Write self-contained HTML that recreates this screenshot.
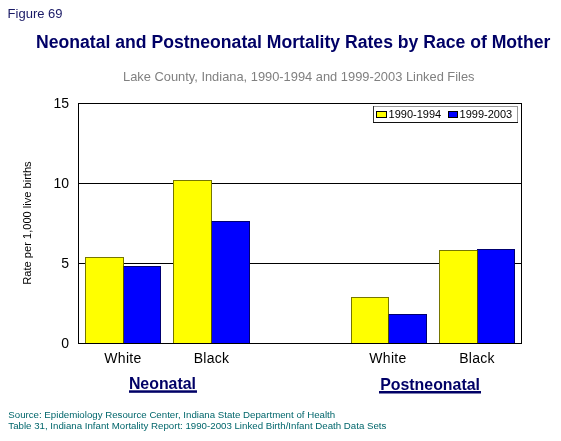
<!DOCTYPE html>
<html><head><meta charset="utf-8">
<style>
html,body{margin:0;padding:0;background:#fff;}
body{width:561px;height:441px;overflow:hidden;position:relative;}
svg{position:absolute;left:0;top:0;will-change:transform;}
text{font-family:"Liberation Sans",sans-serif;}
</style></head>
<body>
<svg width="561" height="441" viewBox="0 0 561 441" xmlns="http://www.w3.org/2000/svg">
<rect x="0" y="0" width="561" height="441" fill="#ffffff"/>
<text x="7.6" y="18" font-size="13" fill="#1a1a66">Figure 69</text>
<text x="36.1" y="48" font-size="17.6" font-weight="bold" fill="#000066">Neonatal and Postneonatal Mortality Rates by Race of Mother</text>
<text x="123" y="81" font-size="12.87" fill="#808080">Lake County, Indiana, 1990-1994 and 1999-2003 Linked Files</text>

<!-- gridlines -->
<g stroke="#000" stroke-width="1" fill="none">
<line x1="78" y1="183.5" x2="521" y2="183.5"/>
<line x1="78" y1="263.5" x2="521" y2="263.5"/>
</g>
<!-- bars -->
<g stroke-width="1">
<rect x="85.5" y="257.5" width="38" height="86" fill="#ffff00" stroke="#767600"/>
<rect x="123.5" y="266.5" width="37" height="77" fill="#0000ff" stroke="#000070"/>
<rect x="173.5" y="180.5" width="38" height="163" fill="#ffff00" stroke="#767600"/>
<rect x="211.5" y="221.5" width="38" height="122" fill="#0000ff" stroke="#000070"/>
<rect x="351.5" y="297.5" width="37" height="46" fill="#ffff00" stroke="#767600"/>
<rect x="388.5" y="314.5" width="38" height="29" fill="#0000ff" stroke="#000070"/>
<rect x="439.5" y="250.5" width="38" height="93" fill="#ffff00" stroke="#767600"/>
<rect x="477.5" y="249.5" width="37" height="94" fill="#0000ff" stroke="#000070"/>
</g>
<g stroke="#505000" stroke-width="1">
<line x1="123.5" y1="266" x2="123.5" y2="343"/>
<line x1="211.5" y1="221" x2="211.5" y2="343"/>
<line x1="388.5" y1="314" x2="388.5" y2="343"/>
<line x1="477.5" y1="250" x2="477.5" y2="343"/>
</g>
<!-- plot frame -->
<rect x="78.5" y="103.5" width="443" height="240" fill="none" stroke="#000" stroke-width="1"/>

<!-- y labels -->
<g font-size="14" fill="#000" text-anchor="end">
<text x="69" y="108">15</text>
<text x="69" y="188">10</text>
<text x="69" y="268">5</text>
<text x="69" y="348">0</text>
</g>
<text transform="translate(30.8,223) rotate(-90)" font-size="11.1" text-anchor="middle" fill="#000">Rate per 1,000 live births</text>

<!-- legend -->
<rect x="373" y="106" width="145" height="17" fill="#fff"/>
<g stroke-width="1" fill="none"><line x1="373" y1="106.5" x2="518" y2="106.5" stroke="#999"/><line x1="517.5" y1="106" x2="517.5" y2="123" stroke="#999"/><line x1="373.5" y1="106" x2="373.5" y2="123" stroke="#333"/><line x1="373" y1="122.5" x2="518" y2="122.5" stroke="#111"/></g>
<rect x="376.5" y="111.5" width="10" height="6" fill="#ffff00" stroke="#000"/>
<rect x="448.5" y="111.5" width="9" height="6" fill="#0000ff" stroke="#000"/>
<text x="388.6" y="118" font-size="11" fill="#000">1990-1994</text>
<text x="459.6" y="118" font-size="11" fill="#000">1999-2003</text>

<!-- category labels -->
<g font-size="14" fill="#000" text-anchor="middle" letter-spacing="0.3">
<text x="123" y="363">White</text>
<text x="211.5" y="363">Black</text>
<text x="388" y="363">White</text>
<text x="477" y="363">Black</text>
</g>
<g font-size="15.9" font-weight="bold" fill="#000066">
<text x="128.9" y="388.6">Neonatal</text>
<text x="380.2" y="389.5">Postneonatal</text>
</g>
<rect x="129" y="390.3" width="68" height="2.5" fill="#000066"/>
<rect x="379" y="391" width="102" height="2.5" fill="#000066"/>

<!-- footer -->
<g font-size="9.7" fill="#00666b">
<text x="8.3" y="417.6">Source: Epidemiology Resource Center, Indiana State Department of Health</text>
<text x="8.3" y="428.7">Table 31, Indiana Infant Mortality Report: 1990-2003 Linked Birth/Infant Death Data Sets</text>
</g>
</svg>
</body></html>
